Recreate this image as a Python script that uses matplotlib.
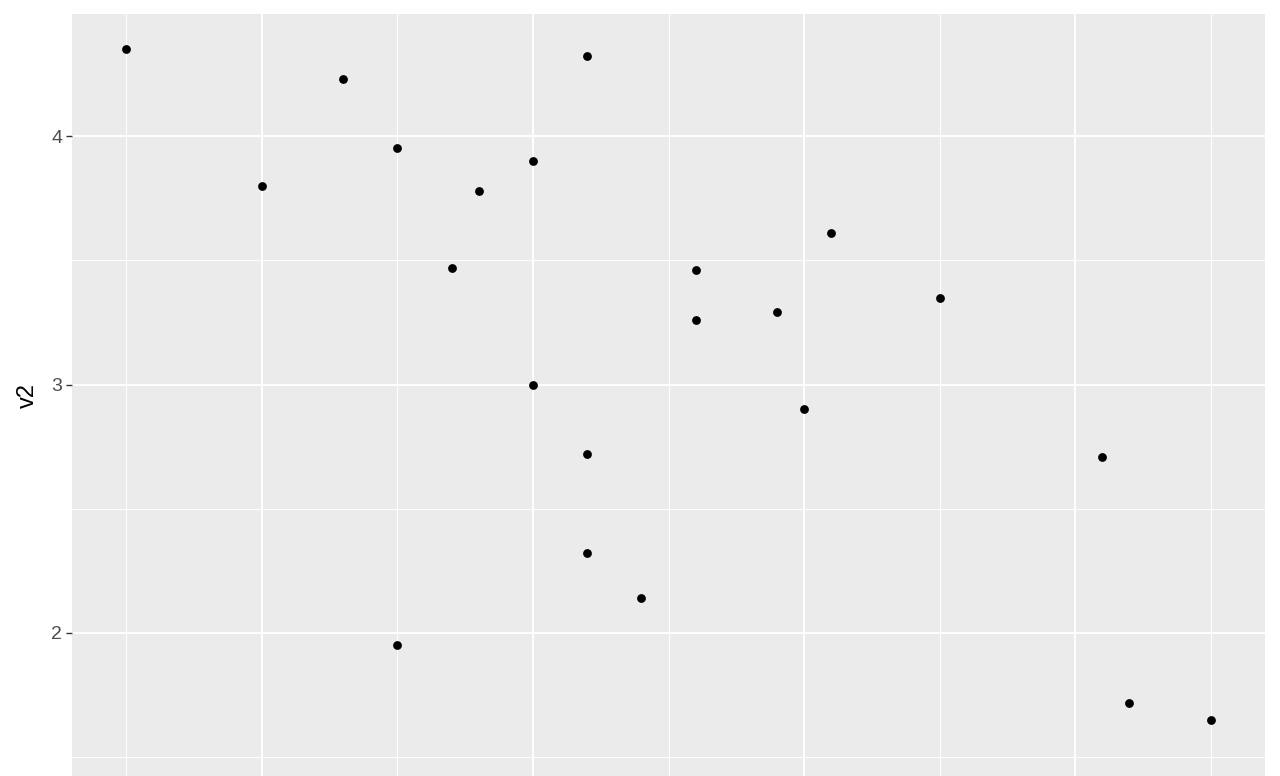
import matplotlib
matplotlib.use("Agg")
import matplotlib.pyplot as plt
from matplotlib.ticker import MultipleLocator

plt.rcParams['font.family'] = ['Liberation Sans', 'DejaVu Sans']

# data
v1 = [1.5, 2.0, 2.3, 2.5, 2.5, 2.7, 2.8, 3.0, 3.0, 3.2, 3.2, 3.2,
      3.4, 3.6, 3.6, 3.9, 4.0, 4.1, 4.5, 5.1, 5.2, 5.5]
v2 = [4.35, 3.80, 4.23, 3.95, 1.95, 3.47, 3.78, 3.90, 3.00, 4.32, 2.72, 2.32,
      2.14, 3.46, 3.26, 3.29, 2.90, 3.61, 3.35, 2.71, 1.72, 1.65]
y_ticks = [2, 3, 4]

fig = plt.figure(figsize=(12.8, 7.76), dpi=100)
# panel runs off the bottom of the picture, like the cropped reference
ax = fig.add_axes([72/1280, 0, (1265-72)/1280, (776-14)/776])
ax.set_facecolor("#EBEBEB")

ax.scatter(v1, v2, s=40, color="black", zorder=3, linewidths=0)

ax.set_xlim(1.5 - 0.2, 5.5 + 0.2)
ax.set_ylim(1.4245, 4.491)

ax.xaxis.set_major_locator(MultipleLocator(1))
ax.xaxis.set_minor_locator(MultipleLocator(0.5))
ax.set_yticks(y_ticks)
ax.yaxis.set_minor_locator(MultipleLocator(0.5))

ax.grid(which="major", color="white", linewidth=1.4)
ax.grid(which="minor", color="white", linewidth=0.7)
ax.set_axisbelow(True)
for s in ax.spines.values():
    s.set_visible(False)

ax.tick_params(axis="y", which="major", length=4, width=1, color="#333333",
               labelsize=14, labelcolor="#4D4D4D", pad=3)
ax.tick_params(which="minor", length=0)
ax.tick_params(axis="x", which="major", length=4, color="#333333", labelbottom=False)

ax.set_ylabel("v2", fontsize=17, color="black", labelpad=9)

fig.savefig("out.png", dpi=100)
